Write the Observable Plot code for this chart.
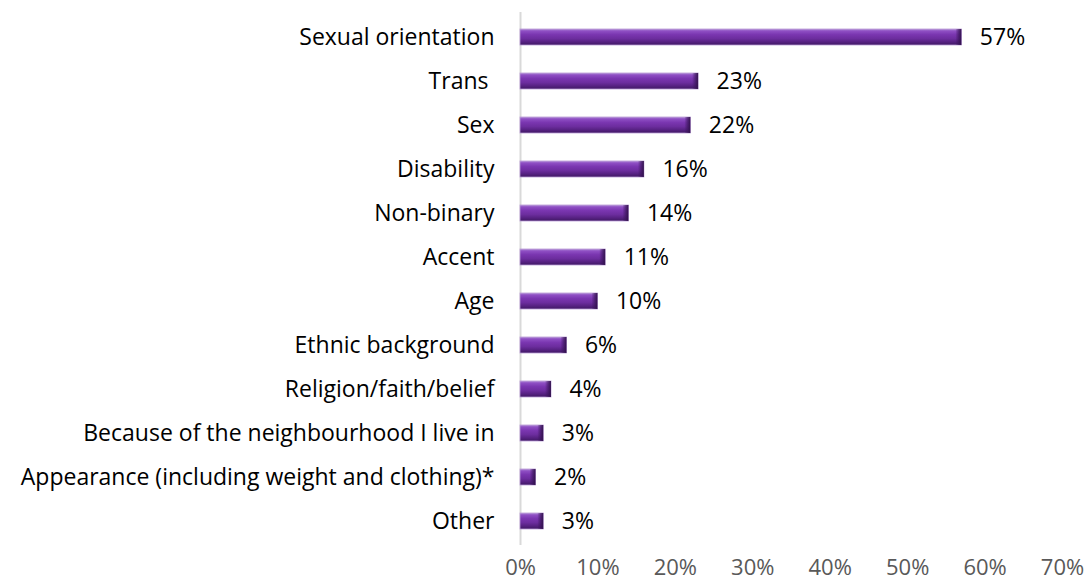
<!DOCTYPE html>
<html>
<head>
<meta charset="utf-8">
<script src="https://cdn.jsdelivr.net/npm/d3@7"></script>
<script src="https://cdn.jsdelivr.net/npm/@observablehq/plot@0.6"></script>
<style>
  html, body { margin: 0; padding: 0; background: #fff; }
  #chart { width: 1085px; height: 585px; }
</style>
</head>
<body>
<div id="chart"></div>
<script>
const categories = [
  "Sexual orientation",
  "Trans ",
  "Sex",
  "Disability",
  "Non-binary",
  "Accent",
  "Age",
  "Ethnic background",
  "Religion/faith/belief",
  "Because of the neighbourhood I live in",
  "Appearance (including weight and clothing)*",
  "Other"
];
const values = [0.57, 0.23, 0.22, 0.16, 0.14, 0.11, 0.10, 0.06, 0.04, 0.03, 0.02, 0.03];
const xTicks = [0, 0.1, 0.2, 0.3, 0.4, 0.5, 0.6, 0.7];

const data = categories.map((c, i) => ({category: c, value: values[i]}));
const pct = d3.format(".0%");
const FONT = "'Open Sans', Lato, sans-serif";
const FS = 23;

const chart = Plot.plot({
  width: 1085,
  height: 585,
  marginLeft: 520,
  marginRight: 23,
  marginTop: 12,
  marginBottom: 40,
  style: {fontFamily: FONT, fontSize: FS + "px", background: "#fff"},
  x: {domain: [0, 0.7], ticks: xTicks, tickFormat: pct, label: null},
  y: {domain: categories, paddingInner: 0.64, paddingOuter: 0.29, label: null},
  marks: [
    Plot.ruleX([0], {stroke: "#d9d9d9", strokeWidth: 2}),
    Plot.barX(data, {x: "value", y: "category", fill: "url(#barGrad)", stroke: "#b99bd6", strokeWidth: 0.8}),
    Plot.rectX(data, {x1: "value", x2: "value", y: "category", insetLeft: -6, fill: "url(#endGrad)"}),
    Plot.text(data, {x: "value", y: "category", text: d => pct(d.value), textAnchor: "start", dx: 18, fill: "#000", fontSize: FS}),
    Plot.axisY({tickSize: 0, tickPadding: 26, fontSize: FS, fill: "#000"}),
    Plot.axisX({ticks: xTicks, tickFormat: pct, tickSize: 0, tickPadding: 14, fontSize: 22, fill: "#595959"})
  ]
});

const ns = "http://www.w3.org/2000/svg";
const defs = document.createElementNS(ns, "defs");
defs.innerHTML = `
  <linearGradient id="barGrad" x1="0" y1="0" x2="0" y2="1">
    <stop offset="0" stop-color="#b390d8"/>
    <stop offset="0.12" stop-color="#8f4fc4"/>
    <stop offset="0.35" stop-color="#7a36b0"/>
    <stop offset="0.6" stop-color="#6c2d9e"/>
    <stop offset="0.82" stop-color="#552180"/>
    <stop offset="1" stop-color="#3f1862"/>
  </linearGradient>
  <linearGradient id="endGrad" x1="0" y1="0" x2="1" y2="0">
    <stop offset="0" stop-color="#3a145a" stop-opacity="0"/>
    <stop offset="0.5" stop-color="#3a145a" stop-opacity="0.6"/>
    <stop offset="1" stop-color="#2e0f48" stop-opacity="0.95"/>
  </linearGradient>`;
chart.insertBefore(defs, chart.firstChild);
document.getElementById("chart").appendChild(chart);
</script>
</body>
</html>
